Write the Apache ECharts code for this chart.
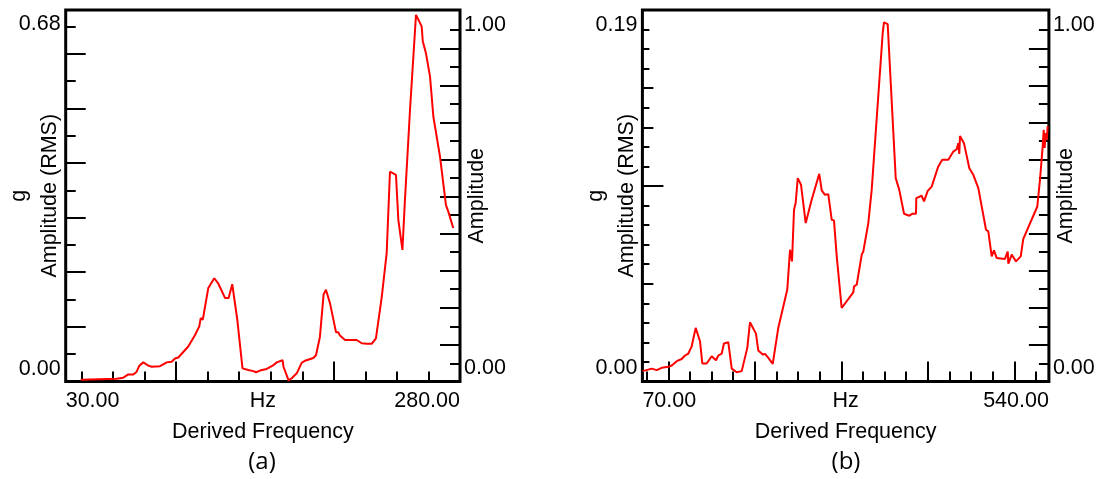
<!DOCTYPE html>
<html><head><meta charset="utf-8">
<script src="https://cdn.jsdelivr.net/npm/echarts@6/dist/echarts.min.js"></script>
<style>html,body{margin:0;padding:0;background:#fff}#c{width:1099px;height:479px}</style>
</head><body><div id="c"></div>
<script>
// ---- data: panel (a) ----
const aFreq = [39.5,62.3,66.5,69.7,72.9,75.0,76.7,79.2,82.4,84.5,89.8,94.0,97.2,99.3,101.4,107.7,112.0,114.7,115.6,116.9,120.4,124.2,126.8,131.0,133.3,135.6,138.8,142.1,145.8,149.0,150.7,153.2,157.4,161.2,163.8,167.5,168.1,171.3,173.3,176.5,179.6,181.7,187.0,188.7,191.2,193.5,195.0,197.6,201.4,202.8,203.9,207.1,214.5,217.7,220.8,221.9,224.0,226.7,230.4,233.5,235.6,239.4,240.9,243.5,245.1,248.3,252.1,255.7,256.4,258.4,261.0,263.1,267.3,271.1,272.6,275.7];
const aAmp = [0.003,0.005,0.007,0.013,0.013,0.018,0.029,0.035,0.029,0.027,0.028,0.035,0.036,0.042,0.044,0.064,0.085,0.101,0.116,0.113,0.171,0.189,0.179,0.153,0.153,0.178,0.113,0.024,0.021,0.019,0.017,0.020,0.023,0.029,0.035,0.039,0.027,0.002,0.006,0.015,0.034,0.038,0.043,0.048,0.082,0.159,0.168,0.143,0.090,0.090,0.084,0.076,0.076,0.070,0.069,0.072,0.069,0.079,0.155,0.235,0.384,0.378,0.296,0.241,0.333,0.497,0.671,0.650,0.623,0.601,0.558,0.485,0.412,0.323,0.311,0.281];
// ---- data: panel (b) ----
const bFreq = [70.3,80.8,86.5,92.3,99.9,103.9,109.7,115.4,119.3,123.1,127.0,131.6,136.6,139.3,144.3,150.1,155.1,157.8,161.7,164.3,169.3,173.3,179.0,184.8,191.3,194.4,196.4,201.3,204.0,209.1,211.8,215.6,220.7,222.5,227.1,237.5,240.7,243.0,245.3,247.2,249.6,253.4,258.8,261.8,265.7,274.5,277.3,281.1,284.9,288.9,291.5,294.7,300.4,313.8,314.7,317.8,323.6,325.4,331.2,335.1,347.8,349.3,353.6,362.9,367.0,372.5,378.6,382.5,386.3,386.7,392.9,395.6,399.9,404.5,412.1,416.7,423.7,429.5,433.4,435.2,436.4,437.2,441.8,448.0,452.6,458.4,467.3,469.9,473.9,476.5,479.6,489.2,492.4,493.1,497.0,502.0,507.4,510.4,526.6,529.7,532.8,534.0,535.1,536.3,537.5,538.6];
const bAmp = [0.0053,0.0066,0.0058,0.0070,0.0075,0.0082,0.0104,0.0115,0.0133,0.0143,0.0180,0.0274,0.0206,0.0092,0.0092,0.0129,0.0109,0.0133,0.0143,0.0194,0.0201,0.0066,0.0047,0.0053,0.0172,0.0303,0.0313,0.0245,0.0158,0.0138,0.0141,0.0121,0.0090,0.0087,0.0274,0.0470,0.0674,0.0614,0.0878,0.0913,0.1040,0.1006,0.0810,0.0862,0.0930,0.1062,0.0977,0.0955,0.0958,0.0827,0.0824,0.0640,0.0376,0.0456,0.0487,0.0495,0.0649,0.0665,0.0810,0.0980,0.1780,0.1837,0.1828,0.1040,0.0980,0.0858,0.0848,0.0858,0.0858,0.0938,0.0950,0.0921,0.0975,0.0997,0.1100,0.1134,0.1134,0.1176,0.1188,0.1219,0.1164,0.1256,0.1219,0.1091,0.1057,0.0989,0.0776,0.0768,0.0640,0.0671,0.0632,0.0627,0.0665,0.0603,0.0649,0.0614,0.0640,0.0729,0.0895,0.1032,0.1202,0.1287,0.1194,0.1270,0.1236,0.1307];
// ---- tick labels ----
const aXLabels = ['30.00','Hz','280.00'];
const aYLabels = ['0.00','0.68'];
const bXLabels = ['70.00','Hz','540.00'];
const bYLabels = ['0.00','0.19'];
const rightLabels = ['0.00','1.00'];
// ---- tick positions ----
const aXShortTicks = [40,60,80,120,140,160,180,220,240,260];
const aXLongTicks = [100,200];
const aYShortTicks = [0.05,0.15,0.25,0.35,0.45,0.55,0.65];
const aYLongTicks = [0.1,0.2,0.3,0.4,0.5,0.6];
const bXShortTicks = [75,125,150,175,225,250,275,325,350,375,425,450,475,525];
const bXLongTicks = [100,200,300,400,500];
const bYShortTicks = [0.01,0.02,0.03,0.04,0.06,0.07,0.08,0.09,0.11,0.12,0.14,0.16,0.17,0.18];
const bYMidTicks = [0.05,0.13,0.15];
const bYLongTicks = [0.10];
const rShortTicks = [0,2/18,4/18,6/18,8/18,10/18,12/18,14/18,16/18,1];
const rLongTicks = [1/18,3/18,5/18,7/18,9/18,11/18,13/18,15/18,17/18];

const FONT = '"Liberation Sans", Arial, sans-serif';
const FS = 21.5;
const tickStyle = {color:'#000', width:2};

// label text chosen by position in the list of label values
function pick(vals, labels){
  return function(v){
    let best = 0, d = Infinity;
    vals.forEach((x,i)=>{ const dd = Math.abs(x - v); if (dd < d){ d = dd; best = i; } });
    return labels[best];
  };
}

function xAxes(grid, min, max, shortT, longT, labels, labelVals){
  return [
    {type:'value', gridIndex:grid, position:'bottom', min, max,
     name:'Derived Frequency', nameLocation:'middle', nameGap:40, nameMoveOverlap:false,
     nameTextStyle:{color:'#000', fontFamily:FONT, fontSize:FS},
     axisLine:{show:false}, splitLine:{show:false},
     axisTick:{show:true, inside:true, length:10, lineStyle:tickStyle, customValues:shortT},
     axisLabel:{show:true, customValues:labelVals, margin:9, color:'#000', fontFamily:FONT, fontSize:FS,
       alignMinLabel:'left', alignMaxLabel:'right', hideOverlap:false,
       formatter:pick(labelVals, labels)}},
    {type:'value', gridIndex:grid, position:'bottom', min, max,
     axisLine:{show:false}, splitLine:{show:false}, axisLabel:{show:false},
     axisTick:{show:true, inside:true, length:20, lineStyle:tickStyle, customValues:longT}}
  ];
}
function yAxis(grid, pos, min, max, ticks, len, opts){
  const o = {type:'value', gridIndex:grid, position:pos, min, max,
    axisLine:{show:false}, splitLine:{show:false}, axisLabel:{show:false},
    axisTick:{show:true, inside:true, length:len, lineStyle:tickStyle, customValues:ticks}};
  return Object.assign(o, opts||{});
}
function leftLabelOpts(labels, vals){
  return {name:'g\nAmplitude (RMS)', nameLocation:'middle', nameGap:0, nameMoveOverlap:false,
    nameTextStyle:{color:'#000', fontFamily:FONT, fontSize:FS, lineHeight:31},
    axisLabel:{show:true, customValues:vals, margin:5, color:'#000', fontFamily:FONT, fontSize:FS,
      hideOverlap:false, formatter:pick(vals, labels)}};
}
const rightLabelVals = [-0.015, 1.015];
function rightLabelOpts(){
  return {name:'Amplitude', nameLocation:'middle', nameGap:6, nameMoveOverlap:false,
    nameTextStyle:{color:'#000', fontFamily:FONT, fontSize:FS},
    axisLabel:{show:true, customValues:rightLabelVals, margin:4, color:'#000', fontFamily:FONT, fontSize:FS,
      hideOverlap:false, formatter:pick(rightLabelVals, rightLabels)}};
}
const RMIN = -0.0546, RMAX = 1.06;

const option = {
  animation:false,
  backgroundColor:'#fff',
  textStyle:{fontFamily:FONT},
  grid:[
    {left:65.7, top:10, width:394.3, height:371.5, show:true, borderColor:'#000', borderWidth:3, backgroundColor:'transparent', outerBoundsMode:'none', containLabel:false},
    {left:642.4, top:10, width:406.5, height:371.5, show:true, borderColor:'#000', borderWidth:3, backgroundColor:'transparent', outerBoundsMode:'none', containLabel:false}
  ],
  title:[
    {text:'(a)', left:262, top:450, textAlign:'center', padding:0, textStyle:{fontFamily:'"Open Sans", "Noto Sans", sans-serif', fontSize:24, fontWeight:'normal', color:'#000'}},
    {text:'(b)', left:846, top:450, textAlign:'center', padding:0, textStyle:{fontFamily:'"Open Sans", "Noto Sans", sans-serif', fontSize:24, fontWeight:'normal', color:'#000'}}
  ],
  xAxis:[
    ...xAxes(0, 30, 280, aXShortTicks, aXLongTicks, aXLabels, [30,155,280]),
    ...xAxes(1, 70, 540, bXShortTicks, bXLongTicks, bXLabels, [70,305,540])
  ],
  yAxis:[
    yAxis(0,'left',0,0.68,aYShortTicks,10, leftLabelOpts(aYLabels,[0.0232,0.654])),
    yAxis(0,'left',0,0.68,aYLongTicks,20),
    yAxis(0,'right',RMIN,RMAX,rShortTicks,10, rightLabelOpts()),
    yAxis(0,'right',RMIN,RMAX,rLongTicks,20),
    yAxis(1,'left',0,0.19,bYShortTicks,7, leftLabelOpts(bYLabels,[0.00675,0.1823])),
    yAxis(1,'left',0,0.19,bYMidTicks,11),
    yAxis(1,'left',0,0.19,bYLongTicks,21),
    yAxis(1,'right',RMIN,RMAX,rShortTicks,10, rightLabelOpts()),
    yAxis(1,'right',RMIN,RMAX,rLongTicks,20)
  ],
  series:[
    {type:'line', xAxisIndex:0, yAxisIndex:0, data:aFreq.map((f,i)=>[f,aAmp[i]]),
     showSymbol:false, symbol:'none', lineStyle:{color:'#ff0000', width:2}, z:5},
    {type:'line', xAxisIndex:2, yAxisIndex:4, data:bFreq.map((f,i)=>[f,bAmp[i]]),
     showSymbol:false, symbol:'none', lineStyle:{color:'#ff0000', width:2}, z:5}
  ]
};
const chart = echarts.init(document.getElementById('c'), null, {renderer:'canvas'});
chart.setOption(option);
</script>
</body></html>
